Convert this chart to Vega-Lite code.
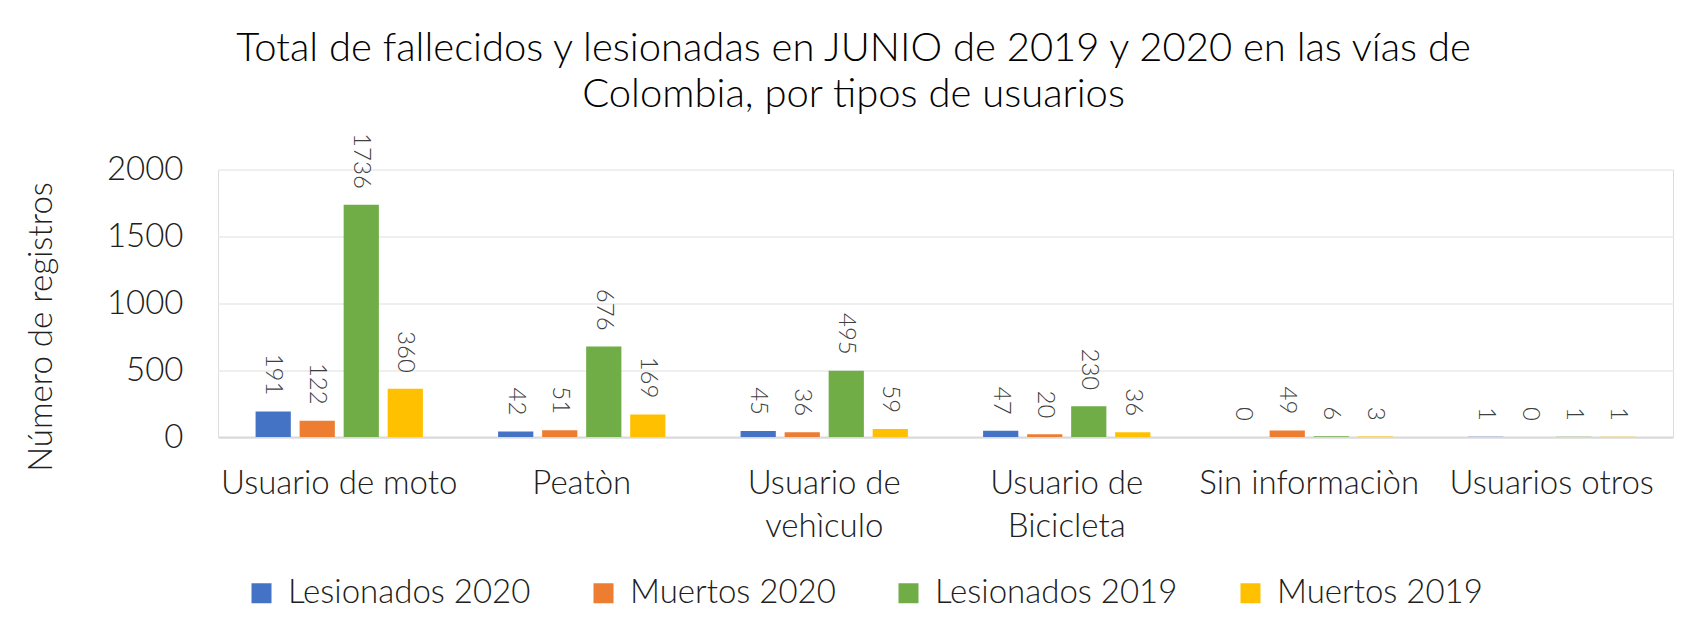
{
  "$schema": "https://vega.github.io/schema/vega-lite/v6.json",
  "width": 1455,
  "height": 267.5,
  "autosize": "none",
  "padding": {"left": 218, "top": 169.5, "right": 33, "bottom": 199},
  "background": "white",
  "title": {
    "text": ["Total de fallecidos y lesionadas en JUNIO de 2019 y 2020 en las vías de", "Colombia, por tipos de usuarios"],
    "font": "Lato",
    "fontSize": 40,
    "fontWeight": 300,
    "color": "#000000",
    "anchor": "middle",
    "dx": -92,
    "lineHeight": 46,
    "offset": 18
  },
  "data": {
    "values": [
      {"usuario": "Usuario de moto", "serie": "Lesionados 2020", "valor": 191},
      {"usuario": "Usuario de moto", "serie": "Muertos 2020", "valor": 122},
      {"usuario": "Usuario de moto", "serie": "Lesionados 2019", "valor": 1736},
      {"usuario": "Usuario de moto", "serie": "Muertos 2019", "valor": 360},
      {"usuario": "Peatòn", "serie": "Lesionados 2020", "valor": 42},
      {"usuario": "Peatòn", "serie": "Muertos 2020", "valor": 51},
      {"usuario": "Peatòn", "serie": "Lesionados 2019", "valor": 676},
      {"usuario": "Peatòn", "serie": "Muertos 2019", "valor": 169},
      {"usuario": "Usuario de vehìculo", "serie": "Lesionados 2020", "valor": 45},
      {"usuario": "Usuario de vehìculo", "serie": "Muertos 2020", "valor": 36},
      {"usuario": "Usuario de vehìculo", "serie": "Lesionados 2019", "valor": 495},
      {"usuario": "Usuario de vehìculo", "serie": "Muertos 2019", "valor": 59},
      {"usuario": "Usuario de Bicicleta", "serie": "Lesionados 2020", "valor": 47},
      {"usuario": "Usuario de Bicicleta", "serie": "Muertos 2020", "valor": 20},
      {"usuario": "Usuario de Bicicleta", "serie": "Lesionados 2019", "valor": 230},
      {"usuario": "Usuario de Bicicleta", "serie": "Muertos 2019", "valor": 36},
      {"usuario": "Sin informaciòn", "serie": "Lesionados 2020", "valor": 0},
      {"usuario": "Sin informaciòn", "serie": "Muertos 2020", "valor": 49},
      {"usuario": "Sin informaciòn", "serie": "Lesionados 2019", "valor": 6},
      {"usuario": "Sin informaciòn", "serie": "Muertos 2019", "valor": 3},
      {"usuario": "Usuarios otros", "serie": "Lesionados 2020", "valor": 1},
      {"usuario": "Usuarios otros", "serie": "Muertos 2020", "valor": 0},
      {"usuario": "Usuarios otros", "serie": "Lesionados 2019", "valor": 1},
      {"usuario": "Usuarios otros", "serie": "Muertos 2019", "valor": 1}
    ]
  },
  "encoding": {
    "x": {
      "field": "usuario",
      "type": "nominal",
      "sort": ["Usuario de moto", "Peatòn", "Usuario de vehìculo", "Usuario de Bicicleta", "Sin informaciòn", "Usuarios otros"],
      "scale": {"paddingInner": 0.31, "paddingOuter": 0.155},
      "axis": {
        "title": null,
        "labelAngle": 0,
        "labelFont": "Lato",
        "labelFontSize": 33,
        "labelFontWeight": 300,
        "labelColor": "#202020",
        "labelPadding": 30,
        "labelLineHeight": 43,
        "labelLimit": 400,
        "labelExpr": "datum.value == 'Usuario de vehìculo' ? ['Usuario de', 'vehìculo'] : datum.value == 'Usuario de Bicicleta' ? ['Usuario de', 'Bicicleta'] : datum.value",
        "ticks": false,
        "domainColor": "#d9d9d9",
        "domainWidth": 2
      }
    },
    "xOffset": {
      "field": "serie",
      "sort": ["Lesionados 2020", "Muertos 2020", "Lesionados 2019", "Muertos 2019"],
      "scale": {"paddingInner": 0.2, "paddingOuter": 0}
    },
    "y": {
      "field": "valor",
      "type": "quantitative",
      "scale": {"domain": [0, 2000], "nice": false},
      "axis": {
        "title": "Número de registros",
        "titleFont": "Lato",
        "titleFontSize": 33,
        "titleFontWeight": 300,
        "titleColor": "#202020",
        "titlePadding": 48,
        "titleY": 157,
        "values": [0, 500, 1000, 1500, 2000],
        "format": "d",
        "labelFont": "Lato",
        "labelFontSize": 33,
        "labelFontWeight": 300,
        "labelColor": "#202020",
        "labelPadding": 35,
        "ticks": false,
        "domain": false,
        "gridColor": "#efefef",
        "gridWidth": 2
      }
    }
  },
  "layer": [
    {
      "mark": {"type": "bar"},
      "encoding": {
        "color": {
          "field": "serie",
          "type": "nominal",
          "sort": ["Lesionados 2020", "Muertos 2020", "Lesionados 2019", "Muertos 2019"],
          "scale": {
            "domain": ["Lesionados 2020", "Muertos 2020", "Lesionados 2019", "Muertos 2019"],
            "range": ["#4472C4", "#ED7D31", "#70AD47", "#FFC000"]
          },
          "legend": {
            "title": null,
            "orient": "none",
            "legendX": 27,
            "legendY": 407,
            "direction": "horizontal",
            "columns": 4,
            "columnPadding": 56,
            "symbolType": "square",
            "symbolSize": 400,
            "symbolStrokeWidth": 0,
            "labelFont": "Lato",
            "labelFontSize": 33,
            "labelFontWeight": 300,
            "labelColor": "#202020",
            "labelOffset": 10,
            "labelLimit": 400
          }
        }
      }
    },
    {
      "mark": {"type": "text", "angle": 90, "align": "right", "baseline": "middle", "dx": -16, "font": "Lato", "fontSize": 24, "fontWeight": 300, "color": "#404040"},
      "encoding": {"text": {"field": "valor", "type": "quantitative"}}
    }
  ]
}
